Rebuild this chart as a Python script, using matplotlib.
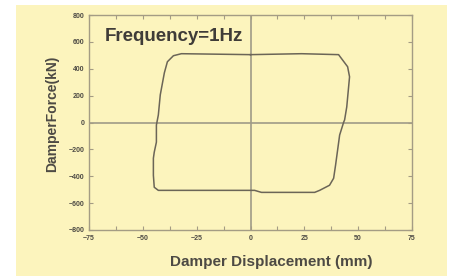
import matplotlib
matplotlib.use("Agg")
import matplotlib.pyplot as plt
from matplotlib.patches import Rectangle
from matplotlib.ticker import MultipleLocator

# Hysteresis loop (displacement mm, force kN)
disp = [0, -32.1, -35.8, -38.6, -40.0, -41.9, -42.8, -43.7, -43.7, -44.7, -45.1,
        -45.1, -44.7, -42.8, -22.8, 1.9, 5.1, 29.8, 32.1, 36.7, 38.6, 39.5,
        41.4, 43.3, 43.7, 44.7, 46.0, 45.1, 40.9, 23.7, 0]
force = [505, 512, 497, 452, 370, 206, 56, -19, -146, -221, -266,
         -393, -482, -505, -505, -505, -520, -520, -505, -467, -415, -318,
         -93, 4, 19, 116, 340, 415, 505, 512, 505]

x_ticks = [-75, -50, -25, 0, 25, 50, 75]
y_ticks = [-800, -600, -400, -200, 0, 200, 400, 600, 800]
title_text = "Frequency=1Hz"
xlabel = "Damper Displacement (mm)"
ylabel = "DamperForce(kN)"

bg = "#fcf4bd"
spine_c = "#a49c84"
curve_c = "#6b6557"
text_c = "#4d4a44"

plt.rcParams['font.family'] = ['Liberation Sans', 'DejaVu Sans']

fig = plt.figure(figsize=(4.55, 2.76), dpi=100)
fig.patch.set_facecolor("white")
fig.patches.append(Rectangle((16/455, 0), 431/455, 271/276, transform=fig.transFigure,
                             facecolor=bg, edgecolor="none", zorder=-10))

ax = fig.add_axes([89/455, 46/276, 323/455, 215/276])
ax.set_zorder(5)
ax.set_facecolor(bg)
ax.set_xlim(-75, 75)
ax.set_ylim(-800, 800)
ax.set_xticks(x_ticks)
ax.set_yticks(y_ticks)
ax.xaxis.set_minor_locator(MultipleLocator(12.5))
ax.tick_params(which='both', direction='in', top=True, right=True, color=spine_c,
               labelsize=5, labelcolor=text_c, width=0.8)
ax.tick_params(which='major', length=3)
ax.tick_params(which='minor', length=3)
for lab in ax.get_xticklabels() + ax.get_yticklabels():
    lab.set_fontweight('bold')
for s in ax.spines.values():
    s.set_color(spine_c)
    s.set_linewidth(1.0)

ax.axhline(0, color="#9f9a88", lw=1.2, zorder=1)
ax.axvline(0, color="#9f9a88", lw=1.2, zorder=1)
ax.plot(disp, force, color=curve_c, lw=1.1, zorder=2)

ax.text(0.05, 0.9, title_text, transform=ax.transAxes, fontsize=13.5,
        fontweight='bold', color="#3f3c38", va='center', ha='left')

fig.text(271/455, 1 - 262/276, xlabel, fontsize=11, fontweight='bold',
         color=text_c, ha='center', va='center', zorder=6)
fig.text(52/455, 1 - 114/276, ylabel, fontsize=10, fontweight='bold',
         color=text_c, ha='center', va='center', rotation=90, zorder=6)

fig.savefig("out.png", dpi=100, facecolor=fig.get_facecolor())
